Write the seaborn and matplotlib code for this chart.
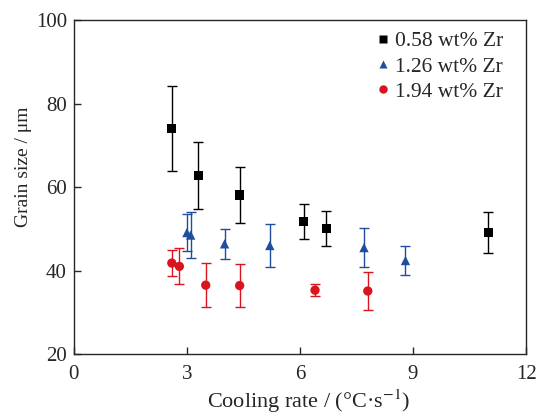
import pandas as pd
import matplotlib.pyplot as plt
import seaborn as sns

# Grain size vs cooling rate for three Zr contents
rate_058 = [2.6, 3.3, 4.4, 6.1, 6.7, 11.0]
size_058 = [74.0, 62.8, 58.1, 51.7, 50.1, 49.1]
err_058 = [10.1, 8.0, 6.6, 4.2, 4.1, 4.9]

rate_126 = [3.0, 3.1, 4.0, 5.2, 7.7, 8.8]
size_126 = [49.1, 48.5, 46.4, 46.0, 45.5, 42.4]
err_126 = [4.4, 5.5, 3.6, 5.2, 4.7, 3.5]

rate_194 = [2.6, 2.8, 3.5, 4.4, 6.4, 7.8]
size_194 = [41.8, 41.0, 36.5, 36.4, 35.3, 35.1]
err_194 = [3.1, 4.3, 5.3, 5.2, 1.4, 4.6]

labels = ["0.58 wt% Zr", "1.26 wt% Zr", "1.94 wt% Zr"]
colors = {"0.58 wt% Zr": "#000000", "1.26 wt% Zr": "#1f4e9e", "1.94 wt% Zr": "#d9141c"}
markers = {"0.58 wt% Zr": "s", "1.26 wt% Zr": "^", "1.94 wt% Zr": "o"}

df = pd.concat([
    pd.DataFrame({"rate": rate_058, "size": size_058, "err": err_058, "alloy": labels[0]}),
    pd.DataFrame({"rate": rate_126, "size": size_126, "err": err_126, "alloy": labels[1]}),
    pd.DataFrame({"rate": rate_194, "size": size_194, "err": err_194, "alloy": labels[2]}),
])

sns.set_style("ticks")
plt.rcParams["font.family"] = ["Liberation Serif", "DejaVu Serif"]
plt.rcParams["mathtext.fontset"] = "stix"

fig = plt.figure(figsize=(5.39, 4.18), dpi=100)
ax = fig.add_axes([0.137, 0.153, 0.839, 0.799])

for name in labels:
    d = df[df["alloy"] == name]
    ax.errorbar(d["rate"], d["size"], yerr=d["err"], fmt="none",
                ecolor=colors[name], elinewidth=1.0, capsize=3.5, capthick=1.0)

sns.scatterplot(data=df, x="rate", y="size", hue="alloy", style="alloy",
                palette=colors, markers=markers, s=45, edgecolor="none",
                ax=ax, zorder=3)

ax.set_xlim(0, 12)
ax.set_ylim(20, 100)
ax.set_xticks([0, 3, 6, 9, 12])
ax.set_yticks([20, 40, 60, 80, 100])
ax.tick_params(direction="in", labelsize=15, length=5, width=1)
ax.tick_params(axis="x", pad=8)
ax.tick_params(axis="y", pad=5)
for s in ax.spines.values():
    s.set_linewidth(1.0)
ax.set_xlabel("Cooling rate / (°C·s$^{-1}$)", fontsize=16)
ax.set_ylabel("Grain size / μm", fontsize=14)
ax.xaxis.set_label_coords(0.52, -0.1)
ax.yaxis.set_label_coords(-0.093, 0.56)

leg = ax.legend(loc="upper right", bbox_to_anchor=(1.011, 1.051),
                frameon=False, fontsize=15.5, handlelength=1.0,
                handletextpad=0.05, labelspacing=0.25, borderaxespad=0.9,
                markerscale=0.9)

fig.savefig("out.png", dpi=100)
